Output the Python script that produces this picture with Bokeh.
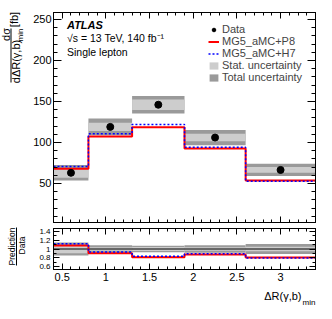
import numpy as np
from bokeh.plotting import figure
from bokeh.models import Range1d, FixedTicker, LinearAxis, Label, Legend, LegendItem
from bokeh.layouts import column, row
from bokeh.embed import file_html
from bokeh.resources import INLINE
from bokeh.core.properties import value

# ---------------- data ----------------
bin_edges = [0.4, 0.8, 1.3, 1.9, 2.6, 3.4]
data_vals = [63.0, 119.0, 146.0, 106.0, 66.5]
stat_unc = [6.0, 5.0, 6.5, 4.5, 3.5]
total_unc = [9.5, 10.3, 10.7, 9.3, 7.5]
pred_p8 = [68.0, 107.3, 118.7, 92.7, 53.7]
pred_h7 = [70.7, 110.6, 122.0, 94.3, 52.8]

x_major = [0.5, 1.0, 1.5, 2.0, 2.5, 3.0]
y_major = [50, 100, 150, 200, 250]
r_major = [0.6, 0.8, 1.0, 1.2, 1.4]

FONT = "Liberation Sans"

edges = np.array(bin_edges)
lo, hi = edges[:-1], edges[1:]
centers = 0.5 * (lo + hi)
d = np.array(data_vals)
st = np.array(stat_unc)
tot = np.array(total_unc)
p8 = np.array(pred_p8)
h7 = np.array(pred_h7)


def step_xy(vals):
    xs = np.repeat(edges, 2)[1:-1]
    ys = np.repeat(vals, 2)
    return xs, ys


# ---------------- geometry (page px) ----------------
XR = (0.4, 3.4)
YR = (2.4, 258.5)
RR = (0.53, 1.47)
FL, FR = 53.0, 315.0          # frame left/right
MT, MB = 12.0, 222.0          # main frame top/bottom
RT, RB = 228.0, 269.0         # ratio frame top/bottom
LW = 30                       # width of left title strip
PW = 294                      # width of plot figures
MH = 225                      # main figure height
RH = 61                       # ratio figure height
XH = 25                       # x-title strip height


def mx(px):
    return XR[0] + (px - FL) * (XR[1] - XR[0]) / (FR - FL)


def my(py):
    return YR[1] - (py - MT) * (YR[1] - YR[0]) / (MB - MT)


def hidden_axis(ticker, minor, tick_in, minor_in):
    ax = LinearAxis(ticker=FixedTicker(ticks=ticker, minor_ticks=minor))
    ax.major_label_text_font_size = "1px"
    ax.major_label_text_color = None
    ax.major_label_standoff = 0
    ax.major_tick_in = tick_in
    ax.major_tick_out = 0
    ax.minor_tick_in = minor_in
    ax.minor_tick_out = 0
    ax.axis_line_color = "black"
    return ax


def style_axis(ax, size, tick_in, minor_in, standoff=3):
    ax.major_label_text_font = FONT
    ax.major_label_text_font_size = size
    ax.major_label_text_color = "black"
    ax.major_label_standoff = standoff
    ax.major_tick_in = tick_in
    ax.major_tick_out = 0
    ax.minor_tick_in = minor_in
    ax.minor_tick_out = 0
    ax.axis_line_color = "black"


def strip(x0, y0, w, h):
    f = figure(width=w, height=h, output_backend="svg", toolbar_location=None,
               x_range=Range1d(x0, x0 + w), y_range=Range1d(-(y0 + h), -y0),
               x_axis_location=None, y_axis_location=None,
               min_border=0, min_border_left=0, min_border_right=0,
               min_border_top=0, min_border_bottom=0)
    f.grid.visible = False
    f.outline_line_color = None
    f.background_fill_color = "white"
    f.border_fill_color = "white"
    return f


x_minor = list(np.round(np.arange(0.4, 3.41, 0.1), 2))
y_minor = list(range(10, 260, 10))
r_minor = list(np.round(np.arange(0.6, 1.45, 0.1), 2))

# ---------------- main panel ----------------
p = figure(width=PW, height=MH, output_backend="svg", toolbar_location=None,
           x_range=Range1d(*XR), y_range=Range1d(*YR),
           min_border_left=int(FL - LW), min_border_right=int(LW + PW - FR),
           min_border_top=int(MT), min_border_bottom=int(MH - MB))
p.grid.visible = False
p.outline_line_color = "black"
p.background_fill_color = "white"
p.border_fill_color = "white"

p.xaxis.visible = False
p.yaxis.ticker = FixedTicker(ticks=y_major, minor_ticks=y_minor)
style_axis(p.yaxis[0], "11px", 8, 4, standoff=2)

p.add_layout(hidden_axis(x_major, x_minor, 6, 3), "below")
p.add_layout(hidden_axis(x_major, x_minor, 6, 3), "above")
p.add_layout(hidden_axis(y_major, y_minor, 8, 4), "right")

r_tot = p.quad(left=lo, right=hi, bottom=d - tot, top=d + tot,
               fill_color="#9a9a9a", line_color=None)
r_st = p.quad(left=lo, right=hi, bottom=d - st, top=d + st,
              fill_color="#cdcdcd", line_color=None)
xs, ys = step_xy(p8)
r_p8 = p.line(xs, ys, line_color="#ff0000", line_width=2)
xs, ys = step_xy(h7)
r_h7 = p.line(xs, ys, line_color="#0000ff", line_width=1.5, line_dash="2 2")
r_d = p.scatter(centers, d, size=7, marker="circle", fill_color="black",
                line_color="black")

legend = Legend(items=[
    LegendItem(label="Data", renderers=[r_d]),
    LegendItem(label="MG5_aMC+P8", renderers=[r_p8]),
    LegendItem(label="MG5_aMC+H7", renderers=[r_h7]),
    LegendItem(label="Stat. uncertainty", renderers=[r_st]),
    LegendItem(label="Total uncertainty", renderers=[r_tot]),
], location=(155, 139), padding=0, margin=0, spacing=0,
    glyph_width=11, glyph_height=9, label_height=12, label_standoff=3,
    label_text_font=FONT, label_text_font_size="11px",
    border_line_alpha=0, background_fill_alpha=0)
p.add_layout(legend, "center")

txt = dict(text_font=FONT, text_baseline="middle", text_color="black")
p.add_layout(Label(x=mx(66.5), y=my(24), text="ATLAS", text_font_size="11px",
                   text_font_style="bold italic", **txt))
p.add_layout(Label(x=mx(66.5), y=my(37.5), text="\u221as = 13 TeV, 140 fb\u207b\u00b9",
                   text_font_size="10.5px", **txt))
p.add_layout(Label(x=mx(66.5), y=my(51), text="Single lepton",
                   text_font_size="10.5px", **txt))

# ---------------- ratio panel ----------------
q = figure(width=PW, height=RH, output_backend="svg", toolbar_location=None,
           x_range=p.x_range, y_range=Range1d(*RR),
           min_border_left=int(FL - LW), min_border_right=int(LW + PW - FR),
           min_border_top=int(RT - MH), min_border_bottom=int(MH + RH - RB))
q.grid.visible = False
q.outline_line_color = "black"
q.background_fill_color = "white"
q.border_fill_color = "white"

q.xaxis.ticker = FixedTicker(ticks=x_major, minor_ticks=x_minor)
style_axis(q.xaxis[0], "11px", 6, 3, standoff=3)
q.yaxis.ticker = FixedTicker(ticks=r_major, minor_ticks=r_minor)
style_axis(q.yaxis[0], "8px", 6, 3, standoff=3)

q.add_layout(hidden_axis(x_major, x_minor, 6, 3), "above")
q.add_layout(hidden_axis(r_major, r_minor, 6, 3), "right")

q.quad(left=lo, right=hi, bottom=1 - tot / d, top=1 + tot / d,
       fill_color="#9a9a9a", line_color=None)
q.quad(left=lo, right=hi, bottom=1 - st / d, top=1 + st / d,
       fill_color="#cdcdcd", line_color=None)
q.line([edges[0], edges[-1]], [1, 1], line_color="black", line_width=1)
xs, ys = step_xy(p8 / d)
q.line(xs, ys, line_color="#ff0000", line_width=2)
xs, ys = step_xy(h7 / d)
q.line(xs, ys, line_color="#0000ff", line_width=1.5, line_dash="2 2")

# ---------------- title strips ----------------
rot = dict(angle=np.pi / 2, text_font=value(FONT), text_align="center",
           text_baseline="middle", text_color="black")

ym = strip(0, 0, LW, MH)
ym.text(x=[5.5], y=[-34], text=["d\u03c3"], text_font_size="11px", **rot)
ym.text(x=[15.5], y=[-61], text=["d\u0394R(\u03b3,b)"], text_font_size="11px", **rot)
ym.text(x=[19.5], y=[-34.5], text=["min"], text_font_size="8px", **rot)
ym.text(x=[13.5], y=[-19], text=["[fb]"], text_font_size="11px", **rot)
ym.line([10.5, 10.5], [-28, -82], line_color="black", line_width=1)

yr = strip(0, MH, LW, RH)
yr.text(x=[11.5], y=[-246], text=["Prediction"], text_font_size="8.5px", **rot)
yr.text(x=[21], y=[-245], text=["Data"], text_font_size="8.5px", **rot)
yr.line([16, 16], [-227, -265], line_color="black", line_width=1)

xt = strip(0, MH + RH, LW + PW, XH)
xt.text(x=[301], y=[-295.5], text=["\u0394R(\u03b3,b)"], text_font=value(FONT),
        text_font_size="11px", text_align="right", text_baseline="alphabetic",
        text_color="black")
xt.text(x=[315], y=[-302], text=["min"], text_font=value(FONT),
        text_font_size="8px", text_align="right", text_baseline="alphabetic",
        text_color="black")

layout = column(row(column(ym, yr, spacing=0), column(p, q, spacing=0), spacing=0),
                xt, spacing=0)
open("out.html", "w").write(file_html(layout, INLINE))
